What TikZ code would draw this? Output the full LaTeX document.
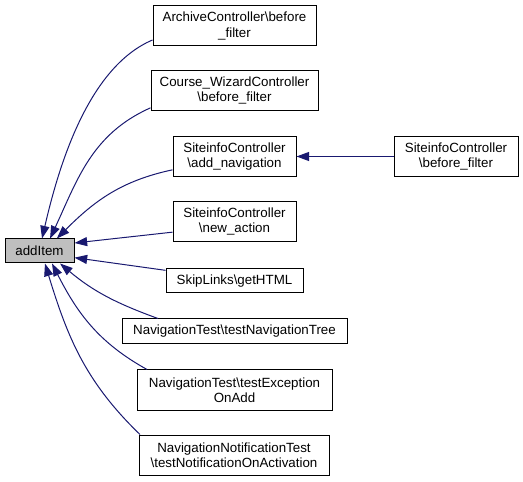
\documentclass[tikz,border=0pt]{standalone}
\usepackage{fontspec}
\setmainfont{Liberation Sans}
\usetikzlibrary{arrows.meta}
\definecolor{edgeblue}{HTML}{191970}
\definecolor{focusgray}{HTML}{BFBFBF}

\begin{document}
\begin{tikzpicture}[
    x=0.75pt, y=0.75pt,
    box/.style={rectangle, draw, line width=0.75pt, inner sep=0pt, minimum height=30pt},
    arrow/.style={-{Triangle[length=9.5pt, width=6.8pt]}, edgeblue, line width=0.75pt},
    every node/.style={align=center, font=\fontsize{10}{11.3}\selectfont}
]
\useasboundingbox (0,0) rectangle (523,481);

% Nodes
\node (addItem) [box, fill=focusgray, minimum width=51.75pt, minimum height=18pt] at (39.5,230) {addItem};

\node (archive) [box, minimum width=122.25pt] at (234.5,455)
    {ArchiveController\textbackslash before\\\_filter};

\node (course) [box, minimum width=125.25pt] at (234.5,390.5)
    {Course\_WizardController\\\textbackslash before\_filter};

\node (addnav) [box, minimum width=92.25pt] at (234.5,324.5)
    {SiteinfoController\\\textbackslash add\_navigation};

\node (newaction) [box, minimum width=92.25pt] at (234.5,259.5)
    {SiteinfoController\\\textbackslash new\_action};

\node (gethtml) [box, minimum width=102.75pt, minimum height=18pt] at (234.5,200)
    {SkipLinks\textbackslash getHTML};

\node (navtree) [box, minimum width=168.75pt, minimum height=18.75pt] at (234.5,149.5)
    {NavigationTest\textbackslash testNavigationTree};

\node (exception) [box, minimum width=146.25pt] at (234.5,91)
    {NavigationTest\textbackslash testException\\OnAdd};

\node (notification) [box, minimum width=142.5pt] at (234,26)
    {NavigationNotificationTest\\\textbackslash testNotificationOnActivation};

\node (beforefilter) [box, minimum width=93pt] at (456,324.5)
    {SiteinfoController\\\textbackslash before\_filter};

% Caller arrows
\draw [arrow] ([yshift=-10.5pt]archive.west) to[out=203, in=77, looseness=0.8] ([xshift=1.9pt]addItem.north);
\draw [arrow] ([yshift=-13pt]course.west) to[out=204, in=65] ([xshift=7.9pt]addItem.north);
\draw [arrow] ([yshift=-10pt]addnav.west) to[out=192, in=45] ([xshift=13pt]addItem.north);
\draw [arrow] ([yshift=-8pt]newaction.west) -- ([yshift=6pt]addItem.east);
\draw [arrow] ([yshift=8pt]gethtml.west) -- ([yshift=-5pt]addItem.east);
\draw [arrow] ([xshift=-57.4pt]navtree.north) to[out=160, in=-40] ([xshift=15.4pt]addItem.south);
\draw [arrow] ([xshift=-65.6pt]exception.north) to[out=151, in=-63] ([xshift=9.4pt]addItem.south);
\draw [arrow] ([xshift=-70.5pt]notification.north) to[out=136, in=-73] ([xshift=4.1pt]addItem.south);
\draw [arrow] (beforefilter) -- (addnav);

\end{tikzpicture}
\end{document}
